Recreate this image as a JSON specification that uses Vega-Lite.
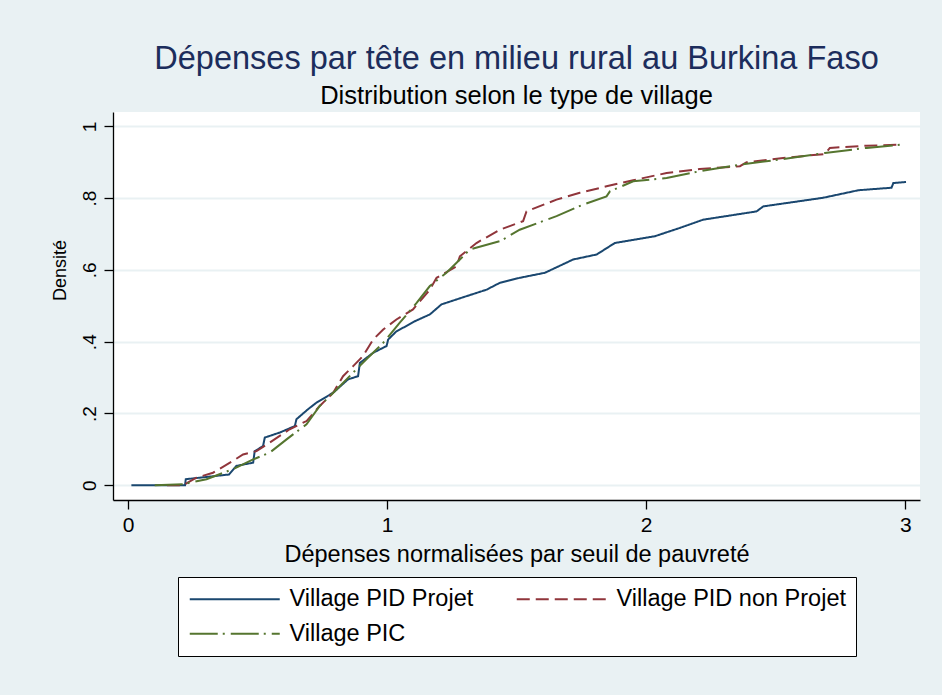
{
  "$schema": "https://vega.github.io/schema/vega-lite/v6.json",
  "autosize": {"type": "none"},
  "padding": {"left": 113, "top": 112, "right": 22, "bottom": 195},
  "width": 807,
  "height": 388,
  "background": "#E9F1F3",
  "title": {
    "text": "Dépenses par tête en milieu rural au Burkina Faso",
    "subtitle": "Distribution selon le type de village",
    "font": "Liberation Sans",
    "fontSize": 32.5,
    "fontWeight": "normal",
    "color": "#1C2D5C",
    "subtitleFont": "Liberation Sans",
    "subtitleFontSize": 25.5,
    "subtitleColor": "#000000",
    "subtitlePadding": 8,
    "anchor": "middle",
    "offset": 3
  },
  "config": {
    "view": {"fill": "#FFFFFF", "stroke": null},
    "font": "Liberation Sans"
  },
  "data": {
    "values": [
      {"x": 0.013, "y": 0, "village": "Village PID Projet"},
      {"x": 0.22, "y": 0, "village": "Village PID Projet"},
      {"x": 0.223, "y": 0.017, "village": "Village PID Projet"},
      {"x": 0.39, "y": 0.03, "village": "Village PID Projet"},
      {"x": 0.418, "y": 0.054, "village": "Village PID Projet"},
      {"x": 0.483, "y": 0.063, "village": "Village PID Projet"},
      {"x": 0.489, "y": 0.095, "village": "Village PID Projet"},
      {"x": 0.521, "y": 0.109, "village": "Village PID Projet"},
      {"x": 0.528, "y": 0.133, "village": "Village PID Projet"},
      {"x": 0.586, "y": 0.147, "village": "Village PID Projet"},
      {"x": 0.644, "y": 0.165, "village": "Village PID Projet"},
      {"x": 0.65, "y": 0.184, "village": "Village PID Projet"},
      {"x": 0.695, "y": 0.212, "village": "Village PID Projet"},
      {"x": 0.727, "y": 0.23, "village": "Village PID Projet"},
      {"x": 0.792, "y": 0.258, "village": "Village PID Projet"},
      {"x": 0.849, "y": 0.295, "village": "Village PID Projet"},
      {"x": 0.888, "y": 0.304, "village": "Village PID Projet"},
      {"x": 0.895, "y": 0.341, "village": "Village PID Projet"},
      {"x": 0.946, "y": 0.369, "village": "Village PID Projet"},
      {"x": 0.998, "y": 0.388, "village": "Village PID Projet"},
      {"x": 1.004, "y": 0.406, "village": "Village PID Projet"},
      {"x": 1.036, "y": 0.429, "village": "Village PID Projet"},
      {"x": 1.062, "y": 0.439, "village": "Village PID Projet"},
      {"x": 1.107, "y": 0.457, "village": "Village PID Projet"},
      {"x": 1.165, "y": 0.476, "village": "Village PID Projet"},
      {"x": 1.21, "y": 0.504, "village": "Village PID Projet"},
      {"x": 1.307, "y": 0.527, "village": "Village PID Projet"},
      {"x": 1.384, "y": 0.545, "village": "Village PID Projet"},
      {"x": 1.435, "y": 0.564, "village": "Village PID Projet"},
      {"x": 1.512, "y": 0.578, "village": "Village PID Projet"},
      {"x": 1.609, "y": 0.592, "village": "Village PID Projet"},
      {"x": 1.718, "y": 0.629, "village": "Village PID Projet"},
      {"x": 1.809, "y": 0.643, "village": "Village PID Projet"},
      {"x": 1.879, "y": 0.675, "village": "Village PID Projet"},
      {"x": 2.034, "y": 0.694, "village": "Village PID Projet"},
      {"x": 2.13, "y": 0.717, "village": "Village PID Projet"},
      {"x": 2.22, "y": 0.74, "village": "Village PID Projet"},
      {"x": 2.426, "y": 0.763, "village": "Village PID Projet"},
      {"x": 2.452, "y": 0.777, "village": "Village PID Projet"},
      {"x": 2.683, "y": 0.801, "village": "Village PID Projet"},
      {"x": 2.819, "y": 0.822, "village": "Village PID Projet"},
      {"x": 2.947, "y": 0.829, "village": "Village PID Projet"},
      {"x": 2.954, "y": 0.842, "village": "Village PID Projet"},
      {"x": 3.003, "y": 0.845, "village": "Village PID Projet"},

      {"x": 0.15, "y": 0, "village": "Village PID non Projet"},
      {"x": 0.212, "y": 0, "village": "Village PID non Projet"},
      {"x": 0.264, "y": 0.021, "village": "Village PID non Projet"},
      {"x": 0.328, "y": 0.035, "village": "Village PID non Projet"},
      {"x": 0.405, "y": 0.068, "village": "Village PID non Projet"},
      {"x": 0.444, "y": 0.086, "village": "Village PID non Projet"},
      {"x": 0.496, "y": 0.095, "village": "Village PID non Projet"},
      {"x": 0.547, "y": 0.119, "village": "Village PID non Projet"},
      {"x": 0.624, "y": 0.156, "village": "Village PID non Projet"},
      {"x": 0.689, "y": 0.179, "village": "Village PID non Projet"},
      {"x": 0.74, "y": 0.221, "village": "Village PID non Projet"},
      {"x": 0.792, "y": 0.258, "village": "Village PID non Projet"},
      {"x": 0.83, "y": 0.304, "village": "Village PID non Projet"},
      {"x": 0.869, "y": 0.332, "village": "Village PID non Projet"},
      {"x": 0.907, "y": 0.36, "village": "Village PID non Projet"},
      {"x": 0.946, "y": 0.406, "village": "Village PID non Projet"},
      {"x": 0.985, "y": 0.434, "village": "Village PID non Projet"},
      {"x": 1.036, "y": 0.462, "village": "Village PID non Projet"},
      {"x": 1.1, "y": 0.49, "village": "Village PID non Projet"},
      {"x": 1.165, "y": 0.545, "village": "Village PID non Projet"},
      {"x": 1.191, "y": 0.578, "village": "Village PID non Projet"},
      {"x": 1.268, "y": 0.61, "village": "Village PID non Projet"},
      {"x": 1.281, "y": 0.638, "village": "Village PID non Projet"},
      {"x": 1.345, "y": 0.675, "village": "Village PID non Projet"},
      {"x": 1.435, "y": 0.712, "village": "Village PID non Projet"},
      {"x": 1.525, "y": 0.736, "village": "Village PID non Projet"},
      {"x": 1.538, "y": 0.763, "village": "Village PID non Projet"},
      {"x": 1.654, "y": 0.796, "village": "Village PID non Projet"},
      {"x": 1.744, "y": 0.815, "village": "Village PID non Projet"},
      {"x": 1.847, "y": 0.833, "village": "Village PID non Projet"},
      {"x": 1.95, "y": 0.85, "village": "Village PID non Projet"},
      {"x": 2.079, "y": 0.87, "village": "Village PID non Projet"},
      {"x": 2.207, "y": 0.881, "village": "Village PID non Projet"},
      {"x": 2.362, "y": 0.889, "village": "Village PID non Projet"},
      {"x": 2.388, "y": 0.9, "village": "Village PID non Projet"},
      {"x": 2.529, "y": 0.912, "village": "Village PID non Projet"},
      {"x": 2.69, "y": 0.923, "village": "Village PID non Projet"},
      {"x": 2.709, "y": 0.94, "village": "Village PID non Projet"},
      {"x": 2.851, "y": 0.946, "village": "Village PID non Projet"},
      {"x": 2.986, "y": 0.949, "village": "Village PID non Projet"},

      {"x": 0.103, "y": 0, "village": "Village PIC"},
      {"x": 0.212, "y": 0.003, "village": "Village PIC"},
      {"x": 0.303, "y": 0.017, "village": "Village PIC"},
      {"x": 0.405, "y": 0.045, "village": "Village PIC"},
      {"x": 0.483, "y": 0.072, "village": "Village PIC"},
      {"x": 0.547, "y": 0.091, "village": "Village PIC"},
      {"x": 0.612, "y": 0.128, "village": "Village PIC"},
      {"x": 0.689, "y": 0.17, "village": "Village PIC"},
      {"x": 0.74, "y": 0.221, "village": "Village PIC"},
      {"x": 0.805, "y": 0.267, "village": "Village PIC"},
      {"x": 0.869, "y": 0.314, "village": "Village PIC"},
      {"x": 0.92, "y": 0.351, "village": "Village PIC"},
      {"x": 0.985, "y": 0.397, "village": "Village PIC"},
      {"x": 1.049, "y": 0.453, "village": "Village PIC"},
      {"x": 1.114, "y": 0.508, "village": "Village PIC"},
      {"x": 1.165, "y": 0.555, "village": "Village PIC"},
      {"x": 1.229, "y": 0.592, "village": "Village PIC"},
      {"x": 1.281, "y": 0.629, "village": "Village PIC"},
      {"x": 1.319, "y": 0.657, "village": "Village PIC"},
      {"x": 1.435, "y": 0.68, "village": "Village PIC"},
      {"x": 1.448, "y": 0.685, "village": "Village PIC"},
      {"x": 1.512, "y": 0.712, "village": "Village PIC"},
      {"x": 1.654, "y": 0.75, "village": "Village PIC"},
      {"x": 1.757, "y": 0.782, "village": "Village PIC"},
      {"x": 1.847, "y": 0.805, "village": "Village PIC"},
      {"x": 1.86, "y": 0.819, "village": "Village PIC"},
      {"x": 1.95, "y": 0.847, "village": "Village PIC"},
      {"x": 2.079, "y": 0.856, "village": "Village PIC"},
      {"x": 2.207, "y": 0.875, "village": "Village PIC"},
      {"x": 2.362, "y": 0.893, "village": "Village PIC"},
      {"x": 2.529, "y": 0.909, "village": "Village PIC"},
      {"x": 2.69, "y": 0.926, "village": "Village PIC"},
      {"x": 2.851, "y": 0.94, "village": "Village PIC"},
      {"x": 2.986, "y": 0.949, "village": "Village PIC"}
    ]
  },
  "mark": {"type": "line", "strokeWidth": 2},
  "encoding": {
    "x": {
      "field": "x",
      "type": "quantitative",
      "scale": {"domain": [-0.058, 3.057], "nice": false, "zero": false},
      "axis": {
        "values": [0, 1, 2, 3],
        "grid": false,
        "title": "Dépenses normalisées par seuil de pauvreté",
        "titleFont": "Liberation Sans",
        "titleFontSize": 23.5,
        "titleFontWeight": "normal",
        "titleColor": "#000000",
        "titleBaseline": "alphabetic",
        "titleY": 61,
        "labelFont": "Liberation Sans",
        "labelFontSize": 21,
        "labelColor": "#000000",
        "labelPadding": 5,
        "tickSize": 9,
        "tickColor": "#000000",
        "domainColor": "#000000",
        "domainWidth": 1.3,
        "tickWidth": 1.3,
        "labelFlush": false
      }
    },
    "y": {
      "field": "y",
      "type": "quantitative",
      "scale": {"domain": [-0.041, 1.04], "nice": false, "zero": false},
      "axis": {
        "values": [0, 0.2, 0.4, 0.6, 0.8, 1],
        "labelExpr": "datum.value == 0 ? '0' : datum.value == 1 ? '1' : replace(format(datum.value, '.1f'), '0.', '.')",
        "grid": true,
        "gridColor": "#E9F1F3",
        "gridWidth": 2,
        "title": "Densité",
        "titleFont": "Liberation Sans",
        "titleFontSize": 18,
        "titleFontWeight": "normal",
        "titleColor": "#000000",
        "titleAngle": -90,
        "titleAlign": "center",
        "titleBaseline": "middle",
        "titleX": -53,
        "titleY": 158,
        "labelFont": "Liberation Sans",
        "labelFontSize": 19,
        "labelColor": "#000000",
        "labelAngle": -90,
        "labelAlign": "center",
        "labelBaseline": "bottom",
        "labelPadding": 5,
        "labelFlush": false,
        "tickSize": 9,
        "tickColor": "#000000",
        "tickWidth": 1.3,
        "domainColor": "#000000",
        "domainWidth": 1.3
      }
    },
    "color": {
      "field": "village",
      "type": "nominal",
      "scale": {
        "domain": ["Village PID Projet", "Village PID non Projet", "Village PIC"],
        "range": ["#1A476F", "#90353B", "#55752F"]
      },
      "legend": {
        "title": null,
        "orient": "none",
        "legendX": 65,
        "legendY": 465,
        "direction": "horizontal",
        "columns": 2,
        "columnPadding": 38,
        "rowPadding": 10,
        "padding": 10,
        "fillColor": "#FFFFFF",
        "strokeColor": "#000000",
        "symbolType": "M-1,0H8",
        "symbolSize": 400,
        "symbolStrokeWidth": 2,
        "labelFont": "Liberation Sans",
        "labelFontSize": 23.5,
        "labelColor": "#000000",
        "labelOffset": 78,
        "labelLimit": 400
      }
    },
    "strokeDash": {
      "field": "village",
      "type": "nominal",
      "scale": {
        "domain": ["Village PID Projet", "Village PID non Projet", "Village PIC"],
        "range": [[1, 0], [13, 6], [28, 5, 2, 6]]
      },
      "legend": null
    }
  }
}
